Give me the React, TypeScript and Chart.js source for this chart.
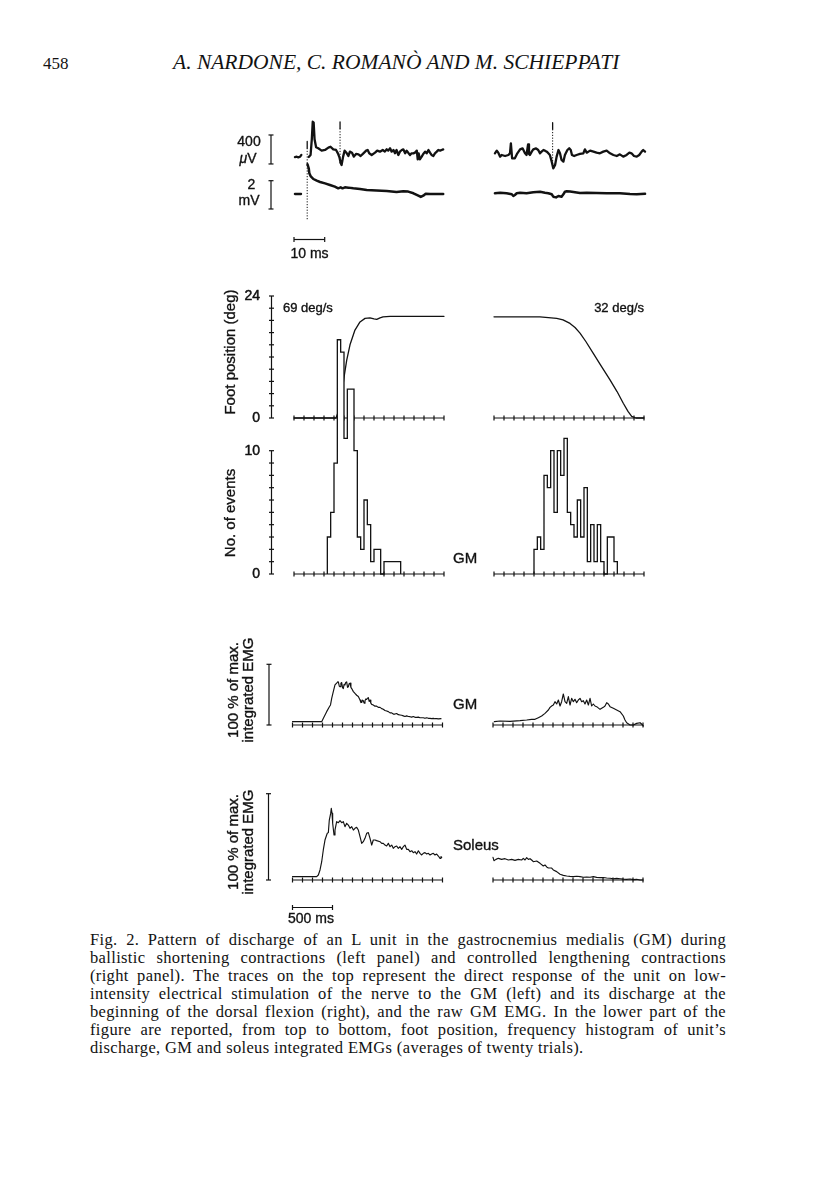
import React, { useEffect, useRef } from 'react';
import { Chart, registerables } from 'chart.js';

Chart.register(...registerables);

// ---------------------------------------------------------------- data
// Raw traces at the top: time in ms, amplitude in µV (unit) and mV (EMG)
const RAW_UV_LEFT_PRE: [number, number][] = [[0.3, -15], [0.9, -10], [1.4, -18], [2.0, -10], [2.4, 15]];
const RAW_UV_LEFT: [number, number][] = [
  [4.8, -14], [5.4, 14], [5.8, 230], [6.1, 473], [6.4, 460], [6.7, 230], [7.2, 120], [7.9, 106], [9.0, 74],
  [10.1, 83], [11.2, 115], [11.9, 128], [12.8, 92], [13.7, 83], [14.3, 37], [14.8, -18], [15.2, -97], [15.5, -124],
  [16.0, -9], [16.5, 74], [17.2, 37], [17.7, 0], [18.2, 60], [18.9, 46], [19.5, -9], [20.2, 28], [21.0, 23],
  [21.7, 0], [22.6, 37], [23.5, 74], [24.0, 83], [24.5, 37], [25.3, 14], [26.4, 46], [27.1, 74], [28.0, 60],
  [28.9, 83], [29.6, 60], [30.2, 92], [30.7, 74], [31.3, 106], [31.8, 60], [32.4, 83], [32.9, 37], [33.4, 83],
  [34.0, 14], [34.5, 60], [35.1, 83], [35.6, 92], [36.2, 37], [36.7, 74], [37.2, 46], [37.8, 14], [38.3, 37],
  [38.9, 37], [39.4, 46], [40.0, 74], [40.3, -46], [40.6, 37], [41.0, -46], [41.6, -9], [42.1, 28], [42.7, 60],
  [43.2, 37], [43.8, 83], [44.3, 46], [44.8, 14], [45.4, 0], [45.9, 37], [46.5, 60], [47.0, 83], [47.6, 74],
  [48.1, 83], [48.6, 92],
];
const RAW_MV_LEFT_PRE: [number, number][] = [[0.3, 0], [2.3, 0]];
const RAW_MV_LEFT: [number, number][] = [
  [4.4, 2.1], [4.8, 1.82], [5.0, 1.46], [5.4, 1.27], [6.3, 1.06], [7.4, 0.94], [8.5, 0.85], [10.1, 0.75],
  [11.7, 0.64], [13.3, 0.52], [14.4, 0.4], [15.2, 0.47], [15.8, 0.4], [16.6, 0.47], [17.7, 0.45], [19.3, 0.4],
  [21.5, 0.35], [23.7, 0.28], [26.9, 0.24], [30.2, 0.21], [33.4, 0.14], [35.6, 0.19], [37.2, 0.17], [38.9, 0.05],
  [40.5, -0.12], [41.3, -0.21], [42.1, -0.12], [42.9, 0.02], [44.3, 0], [48.6, 0],
];
const RAW_UV_RIGHT: [number, number][] = [
  [0.3, 37], [0.9, 74], [1.4, 46], [2.0, -9], [2.5, 14], [3.6, 0], [4.7, 14], [5.2, 37], [5.5, 175], [5.9, -32],
  [6.8, -32], [7.6, 37], [8.5, 92], [9.3, 106], [10.1, 37], [10.6, 14], [11.1, 161], [11.4, 28], [11.7, 14],
  [12.3, 60], [12.8, 92], [13.7, 106], [14.4, 83], [15.0, 37], [15.5, 60], [16.1, 83], [16.6, 74], [17.2, 60],
  [17.7, 37], [18.2, 14], [18.8, -78], [19.3, -170], [19.9, -124], [20.4, -9], [21.0, 83], [21.5, 37],
  [22.0, -55], [22.6, -78], [23.1, 14], [23.9, 83], [24.5, 106], [25.0, 83], [25.4, 14], [26.1, 0], [26.9, 14],
  [28.0, 28], [29.1, 37], [29.6, 92], [30.2, 46], [31.3, 74], [32.4, 60], [33.4, 46], [34.5, 37], [35.6, 60],
  [36.7, 74], [37.8, 37], [38.9, 14], [40.0, 0], [41.0, 23], [42.1, -9], [43.2, 14], [44.1, 46], [44.8, 37],
  [45.6, 0], [46.5, -9], [47.3, 14], [48.1, 60], [48.6, 83], [49.2, 60],
];
const RAW_MV_RIGHT: [number, number][] = [
  [0.3, 0.05], [2.0, 0.09], [4.1, 0.05], [5.8, -0.02], [6.3, -0.14], [6.8, -0.07], [7.4, 0.05], [8.5, 0.09],
  [10.6, 0.05], [12.8, 0.12], [15.0, 0.16], [16.6, 0.09], [17.7, 0.05], [18.8, -0.02], [19.3, -0.19],
  [20.2, -0.24], [21.0, -0.14], [22.0, -0.19], [22.6, -0.02], [23.1, 0.16], [23.7, 0.19], [24.8, 0.17],
  [26.4, 0.12], [28.0, 0.07], [30.2, 0.09], [33.4, 0.07], [36.7, 0.05], [41.0, 0.05], [44.3, 0], [46.5, -0.02],
  [49.2, 0.02],
];
// stimulus / spike markers: [time ms, top µV, bottom µV]
const RAW_MARKERS_LEFT: [number, number, number][] = [[4.3, 200, -880], [15.0, 470, -100]];
const RAW_MARKERS_RIGHT: [number, number, number][] = [[19.1, 460, -150]];
const RAW_UV_BAR: [number, number] = [-110, 290]; // 400 µV
const RAW_MV_BAR: [number, number] = [-1.06, 0.94]; // 2 mV
const RAW_TIME_BAR_MS = 10;

// Lower panels: time in ms
const TIME_TICK_MS = 125;
const TIME_AXIS_MAX_MS = 1875;
const BIN_MS = TIME_TICK_MS / 3;
const EMG_TIME_BAR_MS = 500;

// Foot position (deg)
const FOOT_MAX = 24;
const FOOT_TICK_STEP = 2.4;
const FOOT_TICK_LABELS: [number, string][] = [[24, '24'], [0, '0']];
const FOOT_LEFT: [number, number][] = [
  [0, 0], [525, 0], [560, 1.5], [600, 5], [630, 8.5], [659, 11.4], [700, 14.4], [762, 17.3], [825, 18.9],
  [888, 19.6], [950, 19.7], [1000, 19.5], [1034, 19.4], [1075, 19.7], [1113, 19.9], [1200, 20], [1875, 20],
];
const FOOT_RIGHT: [number, number][] = [
  [0, 19.9], [575, 19.9], [784, 19.6], [863, 19.3], [950, 18.6], [1013, 17.8], [1075, 16.7], [1150, 15],
  [1241, 12.7], [1325, 10.6], [1450, 7.5], [1538, 5.2], [1616, 2.9], [1675, 1.3], [1721, 0.3], [1775, 0],
  [1875, 0],
];

// Histogram of unit discharge (No. of events per bin)
const HIST_MAX = 10;
const HIST_TICK_STEP = 1;
const HIST_TICK_LABELS: [number, string][] = [[10, '10'], [0, '0']];
const HIST_LEFT_FIRST_BIN = 10;
const HIST_LEFT_COUNTS = [3, 5, 9, 19, 18, 11, 15, 15, 10, 3, 2, 6, 4, 1, 2, 2, 0, 1, 1, 1, 1, 1];
const HIST_RIGHT_FIRST_BIN = 12;
const HIST_RIGHT_COUNTS = [2, 3, 2, 8, 7, 10, 5, 10, 8, 11, 5, 4, 3, 6, 3, 7, 1, 4, 1, 4, 1, 0, 3, 3, 1];

// Integrated EMG, % of max
const GM_LEFT: [number, number][] = [
  [0, 5.5], [365, 5.5], [386, 11], [427, 22], [461, 30], [475, 33], [490, 44], [510, 55], [531, 66], [552, 69],
  [565, 71], [573, 71], [585, 64], [594, 63], [605, 69], [615, 70], [625, 62], [635, 60], [645, 67], [656, 66],
  [665, 70], [677, 71], [688, 62], [698, 63], [708, 68], [719, 69], [730, 62], [740, 60], [761, 55], [781, 52],
  [802, 49], [823, 47], [844, 41], [855, 37], [865, 37], [875, 41], [885, 40], [895, 36], [906, 40], [917, 43],
  [927, 42], [937, 44], [948, 45], [958, 39], [969, 41], [979, 36], [990, 34], [1010, 33], [1031, 31],
  [1052, 31], [1073, 29], [1094, 29], [1115, 27], [1135, 26], [1156, 24], [1177, 23], [1198, 22], [1219, 20],
  [1240, 20], [1260, 18], [1281, 18], [1302, 19], [1323, 17], [1344, 16.5], [1365, 16], [1385, 15], [1406, 14],
  [1427, 15], [1448, 14], [1469, 13.7], [1490, 13], [1510, 14], [1531, 12.6], [1552, 12.6], [1573, 13],
  [1594, 12], [1615, 12], [1635, 12], [1656, 11], [1677, 12], [1698, 11], [1719, 11], [1740, 10.5], [1760, 11],
  [1781, 10.4], [1802, 10.4], [1823, 10], [1856, 10.4],
];
const GM_RIGHT: [number, number][] = [
  [17, 5.5], [88, 6.6], [213, 6], [338, 7.1], [421, 8.2], [483, 9.3], [525, 9.3], [567, 12.1], [608, 14.8],
  [650, 19.2], [692, 24.7], [713, 29.1], [733, 31.3], [754, 32.9], [775, 38.4], [796, 34.6], [817, 41.2],
  [838, 31.3], [858, 38.4], [879, 51.1], [900, 38.4], [921, 35.7], [942, 46.7], [963, 32.9], [983, 43.9],
  [1004, 38.4], [1025, 42.3], [1046, 36.8], [1067, 41.2], [1088, 43.9], [1108, 38.4], [1129, 40.1], [1150, 34.6],
  [1171, 41.2], [1192, 32.9], [1213, 43.9], [1233, 31.3], [1254, 34.6], [1275, 31.3], [1296, 30.2], [1338, 25.8],
  [1379, 29.1], [1400, 31.3], [1421, 36.8], [1442, 34.6], [1463, 30.2], [1504, 27.5], [1546, 24.7], [1588, 22],
  [1629, 14.8], [1650, 8.2], [1671, 3.8], [1713, 0], [1754, 0], [1796, 2.7], [1838, 3.8], [1858, 1.6], [1879, -1.6],
];
const SOL_LEFT: [number, number][] = [
  [0, 3.9], [302, 3.9], [323, 5.8], [344, 11.6], [365, 21.2], [385, 34.8], [406, 46.3], [427, 52.1], [435, 54.1],
  [448, 54.9], [460, 69.5], [477, 77.2], [485, 83], [494, 77.2], [502, 65.7], [519, 52.1], [531, 57.9],
  [552, 67.6], [573, 66.4], [594, 68.8], [615, 66.4], [635, 67.6], [656, 61.8], [677, 65.7], [698, 63.7],
  [719, 59.9], [740, 61.8], [761, 57.9], [781, 59.9], [802, 61], [823, 57.9], [844, 50.2], [865, 42.5],
  [885, 44.4], [906, 48.3], [927, 54.1], [948, 54.9], [969, 48.3], [990, 40.5], [1010, 46.3], [1031, 46.3],
  [1052, 45.6], [1094, 44.4], [1115, 42.5], [1135, 42.5], [1156, 40.5], [1177, 39.4], [1198, 42.5], [1219, 38.6],
  [1240, 40.5], [1260, 36.7], [1281, 38.6], [1302, 39.4], [1323, 36.7], [1344, 38.6], [1365, 35.5], [1385, 38.6],
  [1406, 40.5], [1427, 35.5], [1448, 35.5], [1469, 32.8], [1490, 33.9], [1510, 31.7], [1531, 32.8], [1552, 30.1],
  [1573, 33.9], [1594, 30.9], [1615, 29], [1635, 30.9], [1656, 31.7], [1677, 30.1], [1698, 30.9], [1719, 29],
  [1740, 30.1], [1760, 30.9], [1781, 29], [1802, 30.1], [1823, 27.8], [1844, 25.1], [1856, 27], [1865, 26.3],
];
const SOL_RIGHT: [number, number][] = [
  [0, 26.3], [12, 22.4], [37, 23.9], [67, 25.1], [108, 23.9], [150, 24.7], [192, 23.2], [233, 23.9], [275, 22.8],
  [317, 23.9], [358, 23.2], [379, 25.1], [400, 23.2], [421, 25.9], [442, 23.9], [463, 24.7], [483, 23.2],
  [504, 21.2], [546, 22], [588, 19.3], [629, 16.2], [650, 17.4], [671, 15.1], [692, 13.9], [733, 13.9],
  [754, 11.6], [796, 9.7], [838, 6.6], [879, 5.4], [921, 4.6], [963, 4.2], [1004, 3.9], [1046, 4.4], [1088, 3.9],
  [1129, 3.2], [1171, 3.5], [1213, 3.2], [1254, 3.9], [1296, 3.1], [1338, 2.7], [1380, 2.9], [1421, 2.3],
  [1463, 2.0], [1504, 1.5], [1546, 1.9], [1588, 1.5], [1629, 1.0], [1671, 0.8], [1713, 1.2], [1754, 0.4],
  [1796, 0.8], [1838, 0], [1879, 0],
];
const EMG_BAR: [number, number] = [0, 100];

// ---------------------------------------------------------------- layout & style
const INK = '#121212';
const SANS = '"Liberation Sans", Arial, Helvetica, sans-serif';
const SERIF = '"Liberation Serif", "Times New Roman", serif';
const PAGE_W = 816;
const PAGE_H = 1198;
const CANVAS_TOP = 100;
const CANVAS_H = 830;
const TICK_HALF = 2.5;
const CAP = 2.5;
const AXIS_LW = 1.2;
const Y_AXIS_X = 271.5;
const EMG_BAR_X = 269;
const RAW_BAR_X = 271;
const TICK_LABEL_RIGHT = 260;
const RAW_TIME_BAR_Y = 239.5;
const EMG_TIME_BAR_Y = 907.5;

// scale helpers: value v=0 sits at page pixel `zero`, `u` = units per pixel
function xLin(zero: number, u: number) {
  return { type: 'linear', axis: 'x', display: false, bounds: 'data', min: -zero * u, max: (PAGE_W - zero) * u };
}
function yLin(zeroPage: number, u: number) {
  const c0 = zeroPage - CANVAS_TOP;
  return { type: 'linear', axis: 'y', display: false, bounds: 'data', min: -(CANVAS_H - c0) * u, max: c0 * u };
}

const pts = (arr: [number, number][]) => arr.map(([x, y]) => ({ x, y }));
function histPts(first: number, counts: number[]) {
  const p = [{ x: first * BIN_MS, y: 0 }];
  counts.forEach((c, i) => p.push({ x: (first + i) * BIN_MS, y: c }));
  p.push({ x: (first + counts.length) * BIN_MS, y: 0 });
  return p;
}

function line(data: any[], xAxisID: string, yAxisID: string, width: number, extra: any = {}) {
  return {
    type: 'line', data, xAxisID, yAxisID, borderColor: INK, borderWidth: width, pointRadius: 0,
    tension: 0, fill: false, order: 0, borderJoinStyle: 'round', borderCapStyle: 'round', ...extra,
  };
}

function markerSets(markers: [number, number, number][], xAxisID: string) {
  const out: any[] = [];
  markers.forEach(([t, top, bottom]) => {
    const solidEnd = top - 90;
    out.push(line([{ x: t, y: top }, { x: t, y: solidEnd }], xAxisID, 'yUV', 1.3, { borderCapStyle: 'butt' }));
    out.push(line([{ x: t, y: solidEnd }, { x: t, y: bottom }], xAxisID, 'yUV', 1, { borderDash: [1.2, 1.6], borderCapStyle: 'butt' }));
  });
  return out;
}

function drawLayer(chart: any, layer: 'under' | 'over') {
  const { ctx } = chart;
  const s = chart.scales;
  ctx.save();
  ctx.strokeStyle = INK;
  ctx.fillStyle = INK;
  ctx.lineWidth = AXIS_LW;
  const seg = (x0: number, y0: number, x1: number, y1: number) => {
    ctx.beginPath();
    ctx.moveTo(x0, y0);
    ctx.lineTo(x1, y1);
    ctx.stroke();
  };
  const timeAxis = (xs: any, ys: any) => {
    const y = ys.getPixelForValue(0);
    seg(xs.getPixelForValue(0), y, xs.getPixelForValue(TIME_AXIS_MAX_MS), y);
    for (let t = 0; t <= TIME_AXIS_MAX_MS + 0.01; t += TIME_TICK_MS) {
      const x = xs.getPixelForValue(t);
      seg(x, y - TICK_HALF, x, y + TICK_HALF);
    }
  };
  const yAxis = (ys: any, max: number, step: number, labels: [number, string][]) => {
    seg(Y_AXIS_X, ys.getPixelForValue(0), Y_AXIS_X, ys.getPixelForValue(max));
    for (let v = 0; v <= max + 1e-6; v += step) {
      const y = ys.getPixelForValue(v);
      seg(Y_AXIS_X - TICK_HALF, y, Y_AXIS_X + TICK_HALF, y);
    }
    ctx.save();
    ctx.font = `14px ${SANS}`;
    ctx.textAlign = 'right';
    ctx.textBaseline = 'middle';
    ctx.lineWidth = 0.5;
    labels.forEach(([v, txt]) => {
      const y = ys.getPixelForValue(v) + 0.5;
      ctx.fillText(txt, TICK_LABEL_RIGHT, y);
      ctx.strokeText(txt, TICK_LABEL_RIGHT, y);
    });
    ctx.restore();
  };
  const vBar = (ys: any, range: [number, number], x: number) => {
    const a = ys.getPixelForValue(range[0]);
    const b = ys.getPixelForValue(range[1]);
    seg(x, a, x, b);
    seg(x - CAP, a, x + CAP, a);
    seg(x - CAP, b, x + CAP, b);
  };
  const hBar = (xs: any, len: number, yPage: number) => {
    const y = yPage - CANVAS_TOP;
    const a = xs.getPixelForValue(0);
    const b = xs.getPixelForValue(len);
    seg(a, y, b, y);
    seg(a, y - CAP, a, y + CAP);
    seg(b, y - CAP, b, y + CAP);
  };
  if (layer === 'under') {
    timeAxis(s.xL, s.yFoot);
    timeAxis(s.xR, s.yFoot);
    yAxis(s.yFoot, FOOT_MAX, FOOT_TICK_STEP, FOOT_TICK_LABELS);
  } else {
    timeAxis(s.xL, s.yHist);
    timeAxis(s.xR, s.yHist);
    yAxis(s.yHist, HIST_MAX, HIST_TICK_STEP, HIST_TICK_LABELS);
    timeAxis(s.xLe, s.yGM);
    timeAxis(s.xRe, s.yGM);
    timeAxis(s.xLe, s.ySol);
    timeAxis(s.xRe, s.ySol);
    vBar(s.yGM, EMG_BAR, EMG_BAR_X);
    vBar(s.ySol, EMG_BAR, EMG_BAR_X - 0.5);
    vBar(s.yUV, RAW_UV_BAR, RAW_BAR_X);
    vBar(s.yMV, RAW_MV_BAR, RAW_BAR_X);
    hBar(s.xRawL, RAW_TIME_BAR_MS, RAW_TIME_BAR_Y);
    hBar(s.xLe, EMG_TIME_BAR_MS, EMG_TIME_BAR_Y);
  }
  ctx.restore();
}

const paperAxes = {
  id: 'paperAxes',
  beforeDatasetsDraw(chart: any) { drawLayer(chart, 'under'); },
  afterDatasetsDraw(chart: any) { drawLayer(chart, 'over'); },
};

// ---------------------------------------------------------------- text helpers
type LabelProps = {
  x: number; y: number; children: React.ReactNode; size?: number; anchor?: 'left' | 'center' | 'right';
  rotate?: boolean; family?: string; italic?: boolean; spacing?: number; stroke?: number;
};
function Label({ x, y, children, size = 14, anchor = 'center', rotate = false, family = SANS, italic = false, spacing = 0, stroke = 0.35 }: LabelProps) {
  const tx = anchor === 'left' ? '0' : anchor === 'right' ? '-100%' : '-50%';
  return (
    <div
      style={{
        position: 'absolute', left: x, top: y, whiteSpace: 'nowrap', lineHeight: 1, fontFamily: family,
        fontSize: size, fontStyle: italic ? 'italic' : 'normal', letterSpacing: spacing, color: INK,
        WebkitTextStroke: stroke ? `${stroke}px ${INK}` : undefined,
        transform: `translate(${tx}, -50%)${rotate ? ' rotate(-90deg)' : ''}`,
        transformOrigin: rotate ? '50% 50%' : undefined,
      } as React.CSSProperties}
    >
      {children}
    </div>
  );
}

const CAPTION_LINES = [
  'Fig. 2. Pattern of discharge of an L unit in the gastrocnemius medialis (GM) during',
  'ballistic shortening contractions (left panel) and controlled lengthening contractions',
  '(right panel). The traces on the top represent the direct response of the unit on low-',
  'intensity electrical stimulation of the nerve to the GM (left) and its discharge at the',
  'beginning of the dorsal flexion (right), and the raw GM EMG. In the lower part of the',
  'figure are reported, from top to bottom, foot position, frequency histogram of unit\u2019s',
  'discharge, GM and soleus integrated EMGs (averages of twenty trials).',
];

export default function App() {
  const ref = useRef<HTMLCanvasElement>(null);

  useEffect(() => {
    if (!ref.current) return;
    const datasets: any[] = [
      // raw traces
      line(pts(RAW_UV_LEFT_PRE), 'xRawL', 'yUV', 2.3),
      line(pts(RAW_UV_LEFT), 'xRawL', 'yUV', 2.3),
      line(pts(RAW_MV_LEFT_PRE), 'xRawL', 'yMV', 2.3),
      line(pts(RAW_MV_LEFT), 'xRawL', 'yMV', 2.5),
      line(pts(RAW_UV_RIGHT), 'xRawR', 'yUV', 2.3),
      line(pts(RAW_MV_RIGHT), 'xRawR', 'yMV', 2.5),
      ...markerSets(RAW_MARKERS_LEFT, 'xRawL'),
      ...markerSets(RAW_MARKERS_RIGHT, 'xRawR'),
      // foot position (drawn beneath the histogram)
      line(pts(FOOT_LEFT), 'xL', 'yFoot', 1.3, { order: 2 }),
      line(pts(FOOT_RIGHT), 'xR', 'yFoot', 1.3, { order: 2 }),
      // histograms (white filled, on top)
      line(histPts(HIST_LEFT_FIRST_BIN, HIST_LEFT_COUNTS), 'xL', 'yHist', 1.3,
        { stepped: 'before', fill: 'origin', backgroundColor: '#ffffff', order: 1, borderJoinStyle: 'miter', borderCapStyle: 'butt' }),
      line(histPts(HIST_RIGHT_FIRST_BIN, HIST_RIGHT_COUNTS), 'xR', 'yHist', 1.3,
        { stepped: 'before', fill: 'origin', backgroundColor: '#ffffff', order: 1, borderJoinStyle: 'miter', borderCapStyle: 'butt' }),
      // integrated EMGs
      line(pts(GM_LEFT), 'xLe', 'yGM', 1.15),
      line(pts(GM_RIGHT), 'xRe', 'yGM', 1.15),
      line(pts(SOL_LEFT), 'xLe', 'ySol', 1.15),
      line(pts(SOL_RIGHT), 'xRe', 'ySol', 1.15),
    ];

    const chart = new Chart(ref.current, {
      type: 'line',
      data: { datasets },
      options: {
        responsive: false,
        animation: false,
        events: [],
        layout: { padding: 0 },
        plugins: { legend: { display: false }, tooltip: { enabled: false }, title: { display: false } },
        scales: {
          xRawL: xLin(294, 1 / 3.07),
          xRawR: xLin(494, 1 / 3.07),
          yUV: yLin(156, 13.8),
          yMV: yLin(194, 2 / 28.3),
          xL: xLin(294, 12.5),
          xR: xLin(494, 12.5),
          xLe: xLin(292.5, 12.5),
          xRe: xLin(493, 12.5),
          yFoot: yLin(418, 24 / 122),
          yHist: yLin(574, 10 / 123.3),
          yGM: yLin(725, 100 / 60.7),
          ySol: yLin(880, 100 / 86.3),
        } as any,
      },
      plugins: [paperAxes],
    } as any);
    return () => chart.destroy();
  }, []);

  return (
    <div style={{ position: 'absolute', left: 0, top: 0, width: PAGE_W, height: PAGE_H, background: '#fff', overflow: 'hidden' }}>
      {/* running header */}
      <Label x={43} y={63} size={17} family={SERIF} anchor="left" stroke={0}>458</Label>
      <Label x={173} y={63} size={21.5} family={SERIF} anchor="left" italic stroke={0}>A. NARDONE, C. ROMANÒ AND M. SCHIEPPATI</Label>

      <canvas
        ref={ref}
        width={PAGE_W}
        height={CANVAS_H}
        style={{ position: 'absolute', left: 0, top: CANVAS_TOP, width: PAGE_W, height: CANVAS_H }}
      />

      {/* raw trace scale labels */}
      <Label x={249} y={140.5} size={14}>400</Label>
      <Label x={248} y={157.5} size={14}><span style={{ fontStyle: 'italic' }}>μ</span>V</Label>
      <Label x={251.5} y={184} size={14}>2</Label>
      <Label x={249} y={199.5} size={14}>mV</Label>
      <Label x={309.5} y={252.5} size={14}>10 ms</Label>

      {/* foot position */}
      <Label x={229} y={352} size={15} rotate>Foot position (deg)</Label>
      <Label x={283} y={307} size={13} anchor="left">69 deg/s</Label>
      <Label x={644} y={307} size={13} anchor="right">32 deg/s</Label>

      {/* histogram */}
      <Label x={229} y={513} size={15} rotate>No. of events</Label>
      <Label x={453} y={557} size={15} anchor="left">GM</Label>

      {/* GM integrated EMG */}
      <Label x={231.5} y={690} size={15} rotate>100 % of max.</Label>
      <Label x={247} y={690} size={15} rotate>integrated EMG</Label>
      <Label x={453} y={703} size={15} anchor="left">GM</Label>

      {/* Soleus integrated EMG */}
      <Label x={231.5} y={842} size={15} rotate>100 % of max.</Label>
      <Label x={247} y={842} size={15} rotate>integrated EMG</Label>
      <Label x={453} y={844} size={15} anchor="left">Soleus</Label>
      <Label x={311} y={918} size={14}>500 ms</Label>

      {/* caption */}
      {CAPTION_LINES.map((t, i) => {
        const last = i === CAPTION_LINES.length - 1;
        return (
          <div
            key={i}
            style={{
              position: 'absolute', left: 90, top: 931 + i * 18, width: 636, height: 18, lineHeight: '18px',
              fontFamily: SERIF, fontSize: 16.5, letterSpacing: 0.35, color: INK, whiteSpace: 'nowrap',
              textAlign: last ? 'left' : 'justify', textAlignLast: last ? 'left' : 'justify',
            } as React.CSSProperties}
          >
            {t}
          </div>
        );
      })}
    </div>
  );
}
